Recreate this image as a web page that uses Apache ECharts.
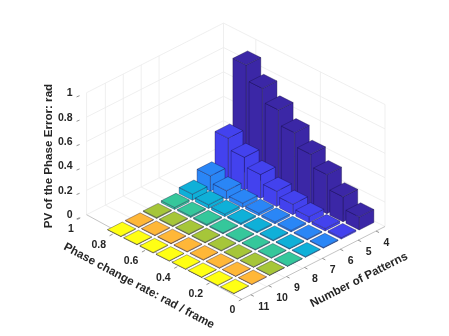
<!DOCTYPE html>
<html>
<head>
<meta charset="utf-8">
<style>
  html, body { margin: 0; padding: 0; background: #fff; }
  #chart { width: 449px; height: 336px; }
</style>
<script src="https://cdn.jsdelivr.net/npm/echarts@6/dist/echarts.min.js"></script>
</head>
<body>
<div id="chart"></div>
<script>
var patterns = [4, 5, 6, 7, 8, 9, 10, 11]
var rates = [0.1, 0.2, 0.3, 0.4, 0.5, 0.6, 0.7, 0.8]
// one list per number of patterns, same order as rates
var pv4 = [0.107, 0.205, 0.32, 0.42, 0.53, 0.65, 0.76, 0.885]
var pv5 = [0.012, 0.02, 0.05, 0.085, 0.125, 0.195, 0.27, 0.36]
var pv6 = [0.006, 0.008, 0.012, 0.015, 0.02, 0.035, 0.07, 0.125]
var pv7 = [0.005, 0.006, 0.008, 0.01, 0.012, 0.02, 0.03, 0.05]
var pv8 = [0.004, 0.005, 0.006, 0.007, 0.008, 0.01, 0.012, 0.016]
var pv9 = [0.004, 0.004, 0.005, 0.005, 0.006, 0.006, 0.007, 0.008]
var pv10 = [0.003, 0.003, 0.004, 0.004, 0.004, 0.005, 0.005, 0.005]
var pv11 = [0.003, 0.003, 0.003, 0.003, 0.003, 0.004, 0.004, 0.004]
var pvRows = [pv4, pv5, pv6, pv7, pv8, pv9, pv10, pv11]
var colors = ['#3b27a6', '#4342ee', '#2a86f6', '#0fb0d8', '#35c79b', '#a6c639', '#ffb738', '#ffff14']

var xTicks = [4, 5, 6, 7, 8, 9, 10, 11]
var yTicks = [0, 0.2, 0.4, 0.6, 0.8, 1]
var zTicks = [0, 0.2, 0.4, 0.6, 0.8, 1]
var xWallLines = [10.1, 9.1, 8.1, 7.1]
var yWallLines = [0.4, 0.8]

// view of the 3d box
var origin = [385, 226.5] // x = 3.5, y = 0, z = 0
var xStep = [-17.9, 9.1]
var yStep = [-161.5, -81.4]
var zScale = 122
var xLow = 3.5, xHigh = 11.5, xBack = 11.15
var barWidth = 0.82

function project(x, y, z) {
  var dx = x - xLow
  return [
    origin[0] + dx * xStep[0] + y * yStep[0],
    origin[1] + dx * xStep[1] + y * yStep[1] - (z || 0) * zScale
  ]
}

var inkLine = '#262626'
var gridLine = '#ebebeb'
var axisLine = '#b5b5b5'
var font = 'bold 10.5px "Liberation Sans", Arial, sans-serif'
var titleFont = 'bold 11.6px "Liberation Sans", Arial, sans-serif'

function seg(a, b, color) {
  return {
    type: 'line',
    silent: true,
    shape: { x1: a[0], y1: a[1], x2: b[0], y2: b[1] },
    style: { stroke: color, lineWidth: 0.8 }
  }
}
function label(text, p, align, rotation) {
  return {
    type: 'text',
    silent: true,
    x: p[0],
    y: p[1],
    rotation: rotation || 0,
    style: {
      text: text,
      x: 0,
      y: 0,
      fill: inkLine,
      font: rotation ? titleFont : font,
      align: align,
      verticalAlign: 'middle'
    }
  }
}

function boxElements() {
  var els = []
  var right = project(xLow, 0, 0)
  var front = project(xHigh, 0, 0)
  var left = project(xBack, 1, 0)
  var back = project(xLow, 1, 0)

  // walls
  zTicks.forEach(function(z) {
    var l = project(xBack, 1, z), b = project(xLow, 1, z), r = project(xLow, 0, z)
    els.push(seg(l, b, gridLine), seg(b, r, gridLine))
    var t = [l[0] - 7, l[1] + 3]
    els.push(seg(t, [t[0] - 3, t[1] + 1.2], '#777'))
    els.push(label(String(z), [72.5, l[1] + 0.5], 'right'))
  })
  els.push(seg(project(xBack, 1, 0), project(xBack, 1, 1), gridLine))
  els.push(seg(back, project(xLow, 1, 1), gridLine))
  els.push(seg(right, project(xLow, 0, 1), gridLine))
  xWallLines.forEach(function(x) {
    els.push(seg(project(x, 1, 0), project(x, 1, 1), gridLine))
    els.push(seg(project(x, 1, 0), project(x, 0, 0), gridLine))
  })
  yWallLines.forEach(function(y) {
    els.push(seg(project(xLow, y, 0), project(xLow, y, 1), gridLine))
    els.push(seg(project(xLow, y, 0), project(xHigh, y, 0), gridLine))
  })

  // floor edges with their ticks
  els.push(seg(front, right, axisLine), seg(front, left, axisLine))
  xTicks.forEach(function(x) {
    var p = project(x, 0, 0)
    els.push(seg(p, [p[0] + 3, p[1] + 1.5], '#777'))
    els.push(label(String(x), [p[0] + 7.5, p[1] + 12], 'left'))
  })
  yTicks.forEach(function(y) {
    var p = project(xHigh, y, 0)
    els.push(seg(p, [p[0] - 3, p[1] + 1.6], '#777'))
    els.push(label(String(y), [p[0] - 6.5, p[1] + 11], 'right'))
  })

  // titles
  els.push(label('PV of the Phase Error: rad', [49, 156], 'center', Math.PI / 2))
  els.push(label('Phase change rate: rad / frame', [139, 286], 'center', -0.49))
  els.push(label('Number of Patterns', [359, 280], 'center', 0.47))
  return els
}

// back to front, so nearer bars cover the ones behind them
var barData = []
rates.slice().reverse().forEach(function(rate) {
  var j = rates.indexOf(rate)
  patterns.forEach(function(n, i) {
    barData.push([n, rate, pvRows[i][j], i])
  })
})

function renderBar(params, api) {
  var x = api.value(0), y = api.value(1), z = api.value(2)
  var fill = colors[api.value(3)]
  var hx = barWidth / 2, hy = barWidth / 2 * 0.1
  var edge = 'rgba(20,15,60,0.5)'
  function face(points) {
    return {
      type: 'polygon',
      shape: { points: points },
      style: { fill: fill, stroke: edge, lineWidth: 0.7, lineJoin: 'round' }
    }
  }
  // corners seen from the front: a is nearest, b towards x low, c towards y high
  var a = project(x + hx, y - hy, 0)
  var b = project(x - hx, y - hy, 0)
  var c = project(x + hx, y + hy, 0)
  var at = project(x + hx, y - hy, z)
  var bt = project(x - hx, y - hy, z)
  var ct = project(x + hx, y + hy, z)
  var dt = project(x - hx, y + hy, z)
  return {
    type: 'group',
    children: [
      face([a, b, bt, at]),
      face([a, c, ct, at]),
      face([at, bt, dt, ct])
    ]
  }
}

var chart = echarts.init(document.getElementById('chart'), null, { renderer: 'canvas' })
chart.setOption({
  animation: false,
  backgroundColor: '#fff',
  graphic: { elements: boxElements() },
  series: [
    {
      type: 'custom',
      coordinateSystem: 'none',
      silent: true,
      renderItem: renderBar,
      data: barData
    }
  ]
})
</script>
</body>
</html>
